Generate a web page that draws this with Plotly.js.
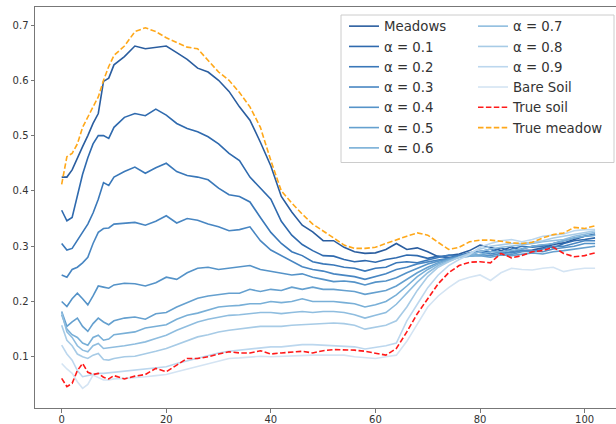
<!DOCTYPE html>
<html>
<head>
<meta charset="utf-8">
<script src="https://cdn.plot.ly/plotly-3.0.1.min.js"></script>
<style>html,body{margin:0;padding:0;overflow:hidden;background:#fff}#chart{width:616px;height:424px}</style>
</head>
<body>
<div id="chart"></div>
<script>
// x positions (band index)
const xs = [0,1,2,3,4,5,6,7,8,9,10,12,14,16,18,20,22,24,26,28,30,32,34,36,38,40,42,44,46,48,50,52,54,56,58,60,62,64,66,68,70,72,74,76,78,80,82,84,86,88,90,92,94,96,98,100,102];

const seriesNames = ["Meadows","α = 0.1","α = 0.2","α = 0.3","α = 0.4","α = 0.5","α = 0.6","α = 0.7","α = 0.8","α = 0.9","Bare Soil","True soil","True meadow"];

const meadows = [0.425,0.425,0.438,0.46,0.48,0.50,0.522,0.54,0.598,0.604,0.628,
0.643,0.662,0.657,0.660,0.662,0.650,0.638,0.622,0.615,0.600,
0.580,0.552,0.528,0.488,0.445,0.390,0.362,0.338,0.326,0.310,
0.310,0.298,0.290,0.287,0.288,0.294,0.305,0.294,0.297,0.290,
0.281,0.283,0.286,0.292,0.302,0.298,0.292,0.299,0.292,0.293,
0.297,0.303,0.306,0.312,0.318,0.322];

const a01 = [0.365,0.346,0.352,0.39,0.43,0.46,0.485,0.50,0.50,0.495,0.515,
0.533,0.540,0.536,0.548,0.537,0.522,0.513,0.507,0.498,0.485,
0.468,0.455,0.425,0.405,0.385,0.345,0.320,0.303,0.292,0.283,
0.282,0.276,0.272,0.274,0.271,0.276,0.279,0.284,0.283,0.278,
0.282,0.279,0.284,0.288,0.291,0.290,0.297,0.290,0.295,0.300,
0.302,0.297,0.305,0.310,0.312,0.315];

const a02 = [0.305,0.293,0.296,0.31,0.325,0.34,0.36,0.385,0.415,0.41,0.425,
0.435,0.443,0.432,0.442,0.450,0.435,0.428,0.425,0.420,0.405,
0.393,0.390,0.380,0.352,0.325,0.305,0.290,0.283,0.272,0.268,
0.266,0.262,0.260,0.255,0.260,0.262,0.270,0.272,0.270,0.275,
0.280,0.284,0.282,0.285,0.290,0.295,0.288,0.295,0.300,0.298,
0.300,0.305,0.310,0.315,0.318,0.320];

const a03 = [0.248,0.244,0.258,0.262,0.27,0.28,0.305,0.325,0.332,0.333,0.34,
0.342,0.343,0.338,0.345,0.355,0.342,0.350,0.347,0.340,0.335,
0.328,0.330,0.335,0.310,0.293,0.283,0.272,0.263,0.258,0.255,
0.250,0.247,0.245,0.240,0.245,0.250,0.258,0.262,0.268,0.272,
0.275,0.278,0.283,0.287,0.290,0.286,0.290,0.288,0.292,0.290,
0.295,0.300,0.300,0.305,0.310,0.310];

const a04 = [0.200,0.191,0.205,0.215,0.205,0.194,0.21,0.228,0.226,0.224,0.230,
0.233,0.232,0.228,0.234,0.244,0.240,0.252,0.260,0.262,0.258,
0.260,0.262,0.265,0.258,0.255,0.252,0.248,0.250,0.244,0.240,
0.236,0.237,0.235,0.230,0.235,0.237,0.243,0.252,0.260,0.268,
0.273,0.277,0.281,0.283,0.285,0.283,0.287,0.285,0.290,0.292,
0.290,0.295,0.298,0.300,0.305,0.305];

const a05 = [0.182,0.155,0.163,0.17,0.155,0.146,0.16,0.17,0.163,0.158,0.165,
0.170,0.172,0.168,0.178,0.180,0.190,0.198,0.206,0.210,0.212,
0.215,0.215,0.222,0.218,0.222,0.220,0.226,0.222,0.226,0.222,
0.222,0.220,0.218,0.213,0.216,0.220,0.228,0.240,0.252,0.262,
0.270,0.276,0.280,0.282,0.283,0.280,0.284,0.283,0.285,0.288,
0.286,0.290,0.292,0.295,0.298,0.300];

const a06 = [0.176,0.15,0.14,0.135,0.125,0.121,0.135,0.139,0.13,0.132,0.14,
0.142,0.145,0.152,0.155,0.158,0.168,0.175,0.179,0.185,0.190,
0.192,0.193,0.196,0.196,0.200,0.198,0.200,0.205,0.200,0.200,
0.200,0.198,0.196,0.190,0.194,0.200,0.212,0.228,0.245,0.258,
0.268,0.275,0.280,0.282,0.285,0.290,0.290,0.292,0.295,0.300,
0.302,0.305,0.310,0.315,0.318,0.320];

const a07 = [0.180,0.145,0.135,0.12,0.112,0.109,0.12,0.124,0.115,0.116,0.118,
0.120,0.123,0.127,0.133,0.139,0.148,0.155,0.163,0.168,0.172,
0.175,0.176,0.178,0.180,0.180,0.178,0.180,0.182,0.180,0.182,
0.182,0.180,0.176,0.170,0.175,0.180,0.195,0.215,0.235,0.252,
0.265,0.273,0.280,0.285,0.290,0.295,0.298,0.300,0.302,0.305,
0.308,0.310,0.312,0.318,0.322,0.325];

const a08 = [0.157,0.13,0.12,0.105,0.10,0.097,0.103,0.106,0.095,0.094,0.097,
0.100,0.101,0.105,0.110,0.115,0.122,0.130,0.136,0.140,0.145,
0.148,0.150,0.153,0.155,0.155,0.155,0.157,0.158,0.158,0.160,
0.161,0.160,0.157,0.150,0.153,0.157,0.165,0.190,0.220,0.245,
0.262,0.272,0.280,0.288,0.295,0.300,0.302,0.305,0.305,0.308,
0.310,0.315,0.318,0.322,0.325,0.328];

const a09 = [0.121,0.105,0.094,0.075,0.064,0.066,0.068,0.07,0.07,0.071,0.073,
0.075,0.076,0.078,0.080,0.082,0.088,0.093,0.097,0.102,0.107,
0.110,0.112,0.115,0.117,0.118,0.118,0.120,0.122,0.122,0.121,
0.121,0.120,0.118,0.114,0.117,0.120,0.125,0.165,0.195,0.225,
0.248,0.265,0.276,0.285,0.298,0.305,0.310,0.312,0.308,0.312,
0.318,0.320,0.322,0.328,0.330,0.330];

const bare = [0.088,0.078,0.07,0.055,0.043,0.05,0.067,0.062,0.058,0.058,0.060,
0.061,0.062,0.064,0.066,0.068,0.073,0.078,0.082,0.088,0.093,
0.097,0.098,0.100,0.101,0.100,0.101,0.102,0.103,0.103,0.103,
0.103,0.103,0.100,0.098,0.097,0.100,0.103,0.128,0.160,0.190,
0.210,0.225,0.238,0.244,0.248,0.238,0.252,0.260,0.258,0.257,
0.260,0.262,0.254,0.258,0.260,0.260];

const trueSoil = [0.061,0.046,0.052,0.075,0.088,0.072,0.068,0.07,0.063,0.06,0.066,
0.060,0.065,0.068,0.079,0.073,0.085,0.097,0.097,0.100,0.105,
0.109,0.107,0.107,0.111,0.105,0.107,0.108,0.110,0.107,0.111,
0.113,0.113,0.112,0.110,0.106,0.103,0.115,0.145,0.178,0.205,
0.232,0.252,0.265,0.271,0.272,0.270,0.287,0.279,0.283,0.290,
0.292,0.298,0.287,0.281,0.283,0.288];

const trueMeadow = [0.412,0.462,0.468,0.485,0.515,0.535,0.552,0.570,0.600,0.625,0.645,
0.662,0.688,0.695,0.688,0.677,0.668,0.660,0.657,0.636,0.615,
0.600,0.578,0.552,0.515,0.455,0.400,0.378,0.358,0.340,0.328,
0.315,0.302,0.296,0.296,0.298,0.305,0.312,0.318,0.324,0.320,
0.307,0.294,0.298,0.308,0.311,0.311,0.309,0.306,0.305,0.307,
0.315,0.321,0.324,0.334,0.332,0.337];

const xTicks = [0,20,40,60,80,100];
const yTicks = [0.1,0.2,0.3,0.4,0.5,0.6,0.7];

const allSeries = [meadows,a01,a02,a03,a04,a05,a06,a07,a08,a09,bare,trueSoil,trueMeadow];
const colors = ["#2a5d9f","#2f6aae","#3a78b9","#4886c2","#5593c8","#65a0cf","#78afd7","#8fbddf","#a7cbe6","#bcd7ee","#d4e4f3","#ff1a1a","#ffa81a"];

const traces = allSeries.map((ys, i) => ({
  type: "scatter", mode: "lines", x: xs, y: ys, name: seriesNames[i],
  line: {color: colors[i], width: 1.6, dash: i >= 11 ? "5.5px,2.4px" : "solid"},
  legend: i < 7 ? "legend" : "legend2",
  hoverinfo: "skip"
}));

// plot area in pixels: x 35..616, y 7..408
const px = v => (v - 35) / 581;
const py = v => (408 - v) / 401;

const legFont = {family: "DejaVu Sans, sans-serif", size: 13.3, color: "#333"};
const layout = {
  width: 616, height: 424,
  margin: {l: 35, r: 0, t: 7, b: 16, autoexpand: false},
  paper_bgcolor: "#fff", plot_bgcolor: "#fff",
  showlegend: true,
  font: {family: "DejaVu Sans, sans-serif", size: 10, color: "#333"},
  xaxis: {range: [-5.1, 106], tickvals: xTicks, ticktext: xTicks.map(String), showgrid: false, zeroline: false,
          showline: true, linecolor: "#777", linewidth: 1, mirror: true, ticks: "outside", ticklen: 3.5, tickcolor: "#777",
          tickfont: {size: 10, color: "#333"}, ticklabelstandoff: -2, automargin: false},
  yaxis: {range: [0.0074, 0.7326], tickvals: yTicks, ticktext: yTicks.map(v => v.toFixed(1)), showgrid: false, zeroline: false,
          showline: true, linecolor: "#777", linewidth: 1, ticks: "outside", ticklen: 3.5, tickcolor: "#777",
          tickfont: {size: 10, color: "#333"}, automargin: false},
  legend: {x: px(344), y: py(11), xanchor: "left", yanchor: "top",
           bgcolor: "rgba(0,0,0,0)", borderwidth: 0, font: legFont, tracegroupgap: 0},
  legend2: {x: px(473), y: py(11), xanchor: "left", yanchor: "top",
           bgcolor: "rgba(0,0,0,0)", borderwidth: 0, font: legFont, tracegroupgap: 0},
  shapes: [{type: "rect", xref: "paper", yref: "paper", x0: px(341), x1: px(614), y0: py(162.5), y1: py(15),
            line: {color: "#cccccc", width: 1}, fillcolor: "rgba(255,255,255,0.8)", layer: "above"}]
};

Plotly.newPlot("chart", traces, layout, {staticPlot: true, displayModeBar: false});
</script>
</body>
</html>
